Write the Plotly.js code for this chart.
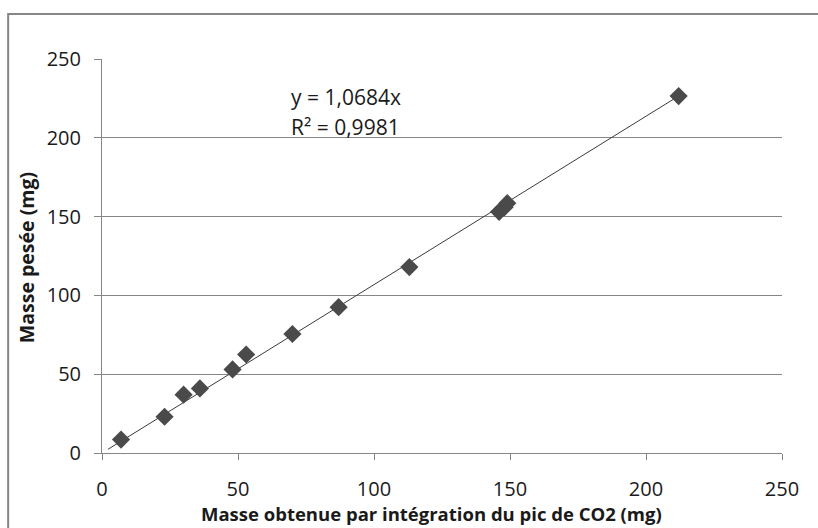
<!DOCTYPE html>
<html>
<head>
<meta charset="utf-8">
<script src="https://cdn.plot.ly/plotly-3.0.1.min.js"></script>
<style>html,body{margin:0;padding:0;background:#fff;}#chart{width:818px;height:528px;}</style>
</head>
<body>
<div id="chart"></div>
<script>
// Data
const massIntegree = [7, 23, 30, 36, 48, 53, 70, 87, 113, 146, 148, 149, 212];
const massePesee   = [8.5, 23, 37, 41, 53, 62.5, 75.5, 92.5, 118, 153, 156, 158.5, 226.5];
const slope = 1.0684;
const r2 = 0.9981;
const trendX = [2.2, 212];
const trendY = trendX.map(x => slope * x);
const tickVals = [0, 50, 100, 150, 200, 250];
const tickText = ['0', '50', '100', '150', '200', '250'];
const xTitle = 'Masse obtenue par intégration du pic de CO2 (mg)';
const yTitle = 'Masse pesée (mg)';

const font = '"Open Sans", sans-serif';
const grey = '#868686';
const ink = '#1a1a1a';

const traces = [
  {
    x: trendX, y: trendY, type: 'scatter', mode: 'lines',
    line: {color: '#3a3a3a', width: 1}, hoverinfo: 'skip', showlegend: false
  },
  {
    x: massIntegree, y: massePesee, type: 'scatter', mode: 'markers',
    marker: {symbol: 'diamond', size: 14, color: '#4a4a4a'},
    showlegend: false
  }
];

const layout = {
  width: 818, height: 528,
  margin: {l: 102, r: 36, t: 59, b: 75},
  paper_bgcolor: '#fff', plot_bgcolor: '#fff',
  font: {family: font, color: ink, size: 20},
  xaxis: {
    range: [0, 250], tickvals: tickVals, ticktext: tickText,
    showgrid: false, zeroline: false,
    showline: true, linecolor: grey, linewidth: 1,
    ticks: 'outside', ticklen: 6, tickcolor: grey, tickwidth: 1,
    ticklabelstandoff: 12,
    tickfont: {family: font, size: 20, color: ink}
  },
  yaxis: {
    range: [0, 250], tickvals: tickVals, ticktext: tickText,
    showgrid: true, gridcolor: grey, gridwidth: 1, zeroline: false,
    showline: true, linecolor: grey, linewidth: 1,
    ticks: 'outside', ticklen: 7, tickcolor: grey, tickwidth: 1,
    ticklabelstandoff: 9,
    tickfont: {family: font, size: 20, color: ink}
  },
  annotations: [
    {xref: 'x', yref: 'y', x: 68.8, y: 226, xanchor: 'left', yanchor: 'middle',
     text: 'y = ' + String(slope).replace('.', ',') + 'x', showarrow: false,
     font: {family: font, size: 21, color: ink}},
    {xref: 'x', yref: 'y', x: 68.8, y: 207, xanchor: 'left', yanchor: 'middle',
     text: 'R² = ' + String(r2).replace('.', ','), showarrow: false,
     font: {family: font, size: 21, color: ink}},
    {xref: 'paper', yref: 'paper', x: 0.485, y: -0.153, xanchor: 'center', yanchor: 'middle',
     text: '<b>' + xTitle + '</b>', showarrow: false,
     font: {family: font, size: 18.5, color: ink}},
    {xref: 'paper', yref: 'paper', x: -0.1118, y: 0.497, xanchor: 'center', yanchor: 'middle',
     text: '<b>' + yTitle + '</b>', showarrow: false, textangle: -90,
     font: {family: font, size: 19.5, color: ink}}
  ],
  shapes: [
    {type: 'rect', xref: 'paper', yref: 'paper',
     x0: -0.138, x1: 1.08, y0: -0.25, y1: 1.114,
     line: {color: grey, width: 2}, fillcolor: 'rgba(0,0,0,0)', layer: 'below'}
  ]
};

Plotly.newPlot('chart', traces, layout, {displayModeBar: false, staticPlot: true});
</script>
</body>
</html>
